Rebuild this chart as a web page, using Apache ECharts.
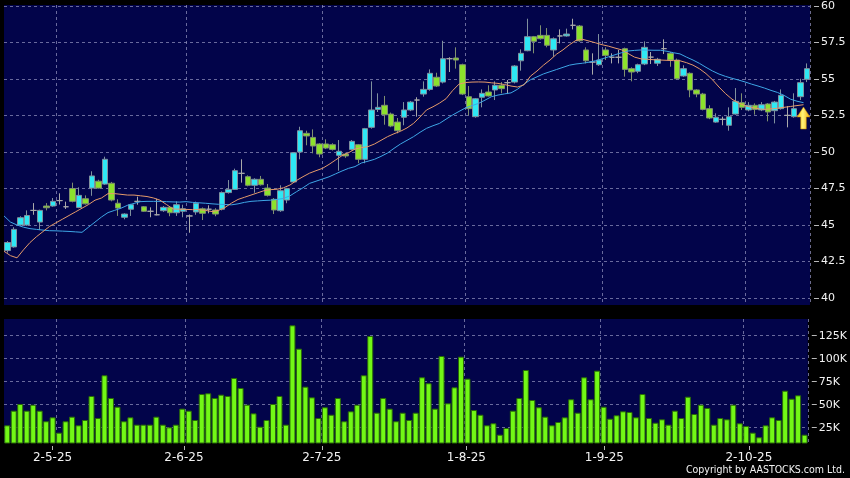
<!DOCTYPE html>
<html><head><meta charset="utf-8">
<script src="https://cdn.jsdelivr.net/npm/echarts@6/dist/echarts.min.js"></script>
<style>html,body{margin:0;padding:0;background:#000;}#c{width:850px;height:478px;}</style>
</head><body><div id="c"></div>
<script>
const dates = ['17-4-25','22-4-25','23-4-25','24-4-25','25-4-25','28-4-25','29-4-25','30-4-25',
'2-5-25','6-5-25','7-5-25','8-5-25','9-5-25','12-5-25','13-5-25','14-5-25','15-5-25','16-5-25','19-5-25','20-5-25','21-5-25','22-5-25','23-5-25','26-5-25','27-5-25','28-5-25','29-5-25','30-5-25',
'2-6-25','3-6-25','4-6-25','5-6-25','6-6-25','9-6-25','10-6-25','11-6-25','12-6-25','13-6-25','16-6-25','17-6-25','18-6-25','19-6-25','20-6-25','23-6-25','24-6-25','25-6-25','26-6-25','27-6-25','30-6-25',
'2-7-25','3-7-25','4-7-25','7-7-25','8-7-25','9-7-25','10-7-25','11-7-25','14-7-25','15-7-25','16-7-25','17-7-25','18-7-25','21-7-25','22-7-25','23-7-25','24-7-25','25-7-25','28-7-25','29-7-25','30-7-25','31-7-25',
'1-8-25','4-8-25','5-8-25','6-8-25','7-8-25','8-8-25','11-8-25','12-8-25','13-8-25','14-8-25','15-8-25','18-8-25','19-8-25','20-8-25','21-8-25','22-8-25','25-8-25','26-8-25','27-8-25','28-8-25','29-8-25',
'1-9-25','2-9-25','3-9-25','4-9-25','5-9-25','8-9-25','9-9-25','10-9-25','11-9-25','12-9-25','15-9-25','16-9-25','17-9-25','18-9-25','19-9-25','22-9-25','23-9-25','24-9-25','25-9-25','26-9-25','29-9-25','30-9-25',
'2-10-25','3-10-25','6-10-25','8-10-25','9-10-25','10-10-25','13-10-25','14-10-25','15-10-25','16-10-25'];

const labelDates = ['2-5-25','2-6-25','2-7-25','1-8-25','1-9-25','2-10-25'];

// [open, close, low, high]
const ohlc = [
[43.25,43.8,43.1,43.9],[43.5,44.7,43.45,44.85],[45.0,45.5,44.95,45.6],[45.0,45.65,44.95,46.0],[46.0,46.0,45.7,46.5],
[45.2,46.0,44.65,46.05],[46.3,46.18,46.0,46.5],[46.3,46.62,46.25,46.85],[46.67,46.67,46.4,47.17],[46.25,46.25,46.1,46.6],
[47.5,46.62,46.55,47.9],[46.2,47.03,46.15,47.58],[46.8,46.45,46.4,47.03],[47.53,48.36,47.0,48.68],[48.0,47.53,47.5,48.1],
[47.8,49.5,47.75,49.68],[47.86,46.71,46.62,47.95],[46.49,46.16,45.62,46.76],[45.53,45.75,45.39,45.8],[46.08,46.39,45.62,46.45],
[46.62,46.62,46.39,46.94],[46.25,45.94,45.9,46.3],[45.94,45.94,45.53,46.21],[45.7,45.7,45.66,46.8],[45.98,46.21,45.9,46.3],
[46.21,45.84,45.6,46.3],[45.84,46.39,45.62,46.62],[45.94,46.11,45.53,46.39],[45.62,45.62,44.47,45.72],[45.89,46.49,45.7,46.6],
[46.11,45.8,45.34,46.2],[46.08,46.08,45.8,46.35],[46.03,45.75,45.6,46.15],[46.08,47.22,46.0,47.3],[47.22,47.44,47.15,48.08],
[47.44,48.72,47.4,48.86],[48.54,48.54,47.9,49.5],[48.31,47.72,47.65,48.4],[47.72,48.13,47.21,48.2],[48.13,47.76,47.7,48.36],
[47.53,47.03,46.95,47.81],[46.76,46.03,45.75,46.85],[45.98,47.35,45.9,47.72],[46.71,47.49,46.49,47.55],[47.95,49.95,47.9,50.0],
[50.0,51.46,49.5,51.73],[51.28,51.1,50.46,51.46],[51.0,50.41,49.91,51.55],[50.55,49.86,49.64,50.6],[50.55,50.27,50.2,50.87],
[50.5,50.18,50.1,50.6],[49.77,50.05,48.72,50.82],[49.86,49.73,49.6,49.95],[50.18,50.73,50.1,50.82],[50.5,49.5,49.23,50.55],
[49.5,51.6,49.23,51.65],[51.69,52.88,51.6,54.84],[52.92,53.06,52.74,54.02],[53.2,52.55,51.87,53.84],[52.6,51.78,51.7,52.7],
[52.05,51.46,51.28,52.33],[52.38,52.88,51.83,53.42],[52.88,53.42,52.8,53.5],[53.56,53.56,52.42,53.75],[53.97,54.29,53.79,54.84],
[54.29,55.39,54.2,55.66],[55.12,54.52,54.45,55.43],[54.79,56.39,54.7,57.62],[56.39,56.39,55.48,56.49],[56.44,56.3,55.71,57.17],
[55.98,53.97,53.9,56.05],[53.79,52.97,52.51,54.52],[52.42,53.65,52.35,53.7],[53.75,54.02,53.06,54.29],[54.11,53.84,53.8,54.57],
[54.25,54.57,53.56,54.84],[54.57,54.34,54.02,54.79],[54.75,54.75,53.97,54.93],[54.79,55.89,54.7,55.95],[56.25,56.76,55.57,57.03],
[56.94,57.9,56.9,59.13],[57.9,57.58,56.76,57.95],[57.99,57.76,57.7,58.68],[57.99,57.31,57.17,58.49],[56.99,57.76,56.53,57.85],
[57.95,57.95,57.44,58.4],[57.95,58.08,57.9,58.45],[58.68,58.68,58.4,59.13],[58.63,57.62,57.55,58.7],[56.99,56.25,56.07,57.17],
[56.16,56.16,55.3,56.76],[55.98,56.3,55.9,58.08],[56.99,56.62,56.3,57.17],[56.49,56.49,56.07,56.76],[56.49,56.49,56.07,56.99],
[57.08,55.66,55.16,57.15],[55.71,55.48,54.84,55.8],[55.53,55.98,55.4,56.05],[56.03,57.17,55.95,57.58],[56.5,56.5,56.03,56.85],
[56.08,56.35,55.89,56.45],[57.08,57.08,56.71,57.72],[56.76,56.3,55.84,56.85],[56.3,55.02,54.95,56.4],[55.21,55.71,55.15,55.94],
[55.39,54.25,53.75,55.45],[54.25,53.97,53.75,54.3],[53.97,52.92,52.85,54.05],[52.97,52.33,52.25,53.2],[52.05,52.38,52.0,52.65],
[52.24,52.24,51.83,52.42],[51.83,52.42,51.46,53.06],[52.6,53.47,52.55,54.38],[53.38,53.06,52.88,54.02],[52.88,53.2,52.79,53.42],
[53.2,52.92,52.56,53.33],[52.88,53.24,52.8,53.42],[53.29,52.74,52.1,53.35],[52.83,53.42,51.96,53.5],[52.97,53.88,52.9,54.29],
[52.51,52.51,51.69,53.15],[52.42,52.97,52.35,54.02],[53.79,54.75,53.56,55.02],[54.98,55.71,54.79,56.07]
];

const maShort = [43.2,42.9,42.75,43.3,43.8,44.2,44.55,44.9,45.15,45.4,
45.65,45.9,46.15,46.4,46.7,46.85,47.15,47.15,47.1,47.05,
47.05,47.0,46.95,46.85,46.7,46.4,46.1,46.08,46.07,46.05,
46.05,46.0,45.92,46.0,46.2,46.5,46.75,46.9,47.05,47.2,
47.35,47.42,47.45,47.55,47.74,48.05,48.31,48.55,48.72,48.88,
49.15,49.45,49.75,49.95,50.2,50.3,50.37,50.55,50.8,51.05,
51.25,51.42,51.65,51.96,52.4,52.88,53.1,53.35,53.65,54.2,
54.65,54.76,54.79,54.8,54.79,54.74,54.7,54.62,54.52,54.45,
54.6,55.2,55.55,55.95,56.3,56.7,57.0,57.35,57.65,57.72,
57.6,57.48,57.35,57.25,57.12,57.0,56.75,56.5,56.38,56.35,
56.32,56.3,56.28,56.26,56.25,56.12,55.95,55.7,55.37,54.95,
54.45,54.0,53.62,53.35,53.18,53.05,52.97,52.92,52.95,53.0,
53.06,53.12,53.18,53.24];

const maLong = [45.62,45.2,45.0,44.85,44.75,44.7,44.65,44.61,44.6,44.58,
44.56,44.53,44.5,44.85,45.2,45.55,45.85,46.0,46.15,46.35,
46.48,46.6,46.62,46.62,46.62,46.6,46.58,46.57,46.6,46.55,
46.52,46.49,46.45,46.42,46.4,46.38,46.45,46.55,46.62,46.65,
46.68,46.7,46.75,46.82,47.0,47.28,47.55,47.85,48.0,48.15,
48.3,48.5,48.7,48.88,49.0,49.25,49.37,49.5,49.7,49.93,
50.25,50.55,50.8,51.05,51.35,51.62,51.8,51.96,52.25,52.53,
52.78,53.02,53.18,53.33,53.55,53.79,53.9,53.98,54.05,54.3,
54.65,54.95,55.15,55.35,55.5,55.65,55.8,55.95,56.03,56.08,
56.15,56.25,56.38,56.52,56.66,56.8,56.92,56.96,56.99,56.98,
56.97,56.97,56.9,56.8,56.72,56.5,56.3,56.07,55.8,55.55,
55.34,55.18,55.05,54.93,54.8,54.65,54.52,54.38,54.22,54.08,
53.88,53.62,53.48,53.38];

// volume in thousands
const volumeK = [27.6,43.5,50.8,43.5,50.0,43.5,32.0,36.3,19.6,32.0,
37.0,27.6,33.4,59.5,35.5,82.0,57.3,47.8,32.0,36.3,
28.3,28.3,28.3,37.0,28.3,25.4,28.3,45.7,43.5,33.4,
61.6,62.4,57.3,60.9,59.5,79.0,68.2,50.0,40.6,26.1,
33.4,50.8,59.5,28.3,136.3,110.9,69.6,58.0,35.5,47.2,
39.1,57.3,32.0,42.8,50.0,82.0,124.7,41.3,57.3,45.7,
32.0,41.3,33.4,41.3,79.8,73.3,45.7,102.9,51.5,68.9,
102.2,78.3,44.2,39.1,27.6,29.8,17.4,24.7,43.5,57.3,
87.7,55.1,47.2,37.0,27.6,31.2,36.3,55.9,41.3,79.8,
55.9,87.0,47.8,34.8,38.5,42.8,42.1,36.3,61.6,35.5,
30.4,34.1,28.3,43.5,35.5,58.7,39.9,50.0,46.4,28.3,
35.5,34.1,50.0,29.8,26.8,19.6,14.6,27.6,36.3,33.4,
65.2,56.5,60.2,17.4];

const priceTicks = [40,42.5,45,47.5,50,52.5,55,57.5,60];
const volumeTicks = [25,50,75,100,125];
const arrowPoint = [123, 52.33];

const FONT = 'DejaVu Sans';
const gridLine = {color:'rgba(140,140,185,0.75)', width:1, type:[3,3]};
const isLabelDate = (i, v) => labelDates.indexOf(v) >= 0;
const maSlots = dates.concat(['']);

const chart = echarts.init(document.getElementById('c'), null, {renderer:'canvas'});
chart.setOption({
  animation:false,
  backgroundColor:'#000',
  grid:[
    {left:4, right:40, top:5, height:300, show:true, backgroundColor:'#02044a', borderWidth:0},
    {left:4, right:40, top:319, height:124, show:true, backgroundColor:'#02044a', borderWidth:0},
    {left:0, right:42, top:319, height:127, show:false}
  ],
  xAxis:[
    {type:'category', gridIndex:0, data:dates, boundaryGap:true,
     axisLine:{show:false}, axisTick:{show:false}, axisLabel:{show:false},
     splitLine:{show:true, interval:isLabelDate, lineStyle:gridLine}},
    {type:'category', gridIndex:0, data:maSlots, boundaryGap:false, show:false},
    {type:'category', gridIndex:1, data:dates, boundaryGap:true,
     axisLine:{show:false}, axisTick:{show:false}, axisLabel:{show:false},
     splitLine:{show:true, interval:isLabelDate, lineStyle:gridLine}},
    {type:'category', gridIndex:2, data:dates, boundaryGap:false,
     axisLine:{show:false},
     axisTick:{show:true, interval:isLabelDate, length:4, lineStyle:{color:'#b8b8b8'}},
     axisLabel:{show:true, interval:isLabelDate, color:'#f2f2f2', fontSize:12, fontFamily:FONT, margin:6},
     splitLine:{show:false}}
  ],
  yAxis:[
    {type:'value', gridIndex:0, position:'right', min:39.52, max:60.07, offset:4,
     axisLine:{show:false},
     axisTick:{show:true, length:5, customValues:priceTicks, lineStyle:{color:'#b8b8b8'}},
     axisLabel:{customValues:priceTicks, color:'#f2f2f2', fontSize:11, fontFamily:FONT, margin:7},
     splitLine:{show:true, lineStyle:gridLine}},
    {type:'value', gridIndex:1, position:'right', min:8.37, max:143.15, offset:4,
     axisLine:{show:false},
     axisTick:{show:true, length:5, customValues:volumeTicks, lineStyle:{color:'#b8b8b8'}},
     axisLabel:{customValues:volumeTicks, color:'#f2f2f2', fontSize:11, fontFamily:FONT, margin:7,
       formatter:(v)=> v + 'K'},
     splitLine:{show:true, lineStyle:gridLine}},
    {type:'value', gridIndex:2, show:false}
  ],
  series:[
    {type:'candlestick', xAxisIndex:0, yAxisIndex:0, data:ohlc, barWidth:6, z:2,
     itemStyle:{color:'#2ee8f4', color0:'#8ce22c', borderColor:'#7f909e', borderColor0:'#7f9070',
       borderColorDoji:'#aaaaaa', borderWidth:1}},
    {type:'line', xAxisIndex:1, yAxisIndex:0, data:maLong, showSymbol:false, z:3,
     lineStyle:{color:'#3ea6e6', width:1}},
    {type:'line', xAxisIndex:1, yAxisIndex:0, data:maShort, showSymbol:false, z:4,
     lineStyle:{color:'#e59a6a', width:1}},
    {type:'scatter', xAxisIndex:1, yAxisIndex:0, data:[arrowPoint], z:6,
     symbol:'path://M6.5,0 L13,10 L9.3,10 L9.3,22 L3.7,22 L3.7,10 L0,10 Z', symbolSize:[13,22],
     itemStyle:{color:new echarts.graphic.LinearGradient(0,0,1,0,[
        {offset:0,color:'#ffc000'},{offset:0.45,color:'#fff27a'},{offset:1,color:'#f2a400'}]),
       borderColor:'#c88a00', borderWidth:0.5, opacity:1}},
    {type:'bar', xAxisIndex:2, yAxisIndex:1, data:volumeK, barWidth:6, z:2,
     itemStyle:{color:'#72f816', borderColor:'#2a6a08', borderWidth:1}}
  ],
  graphic:[
    {type:'text', right:5, top:465,
     style:{text:'Copyright by AASTOCKS.com Ltd.', fill:'#f2f2f2', font:'10.5px "DejaVu Sans Condensed"'}}
  ]
});
</script>
</body></html>
